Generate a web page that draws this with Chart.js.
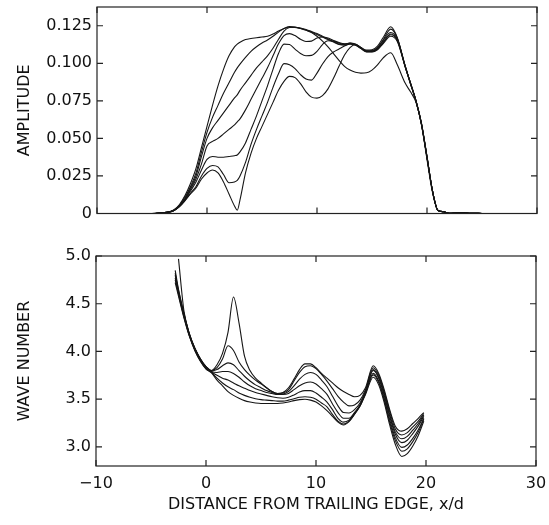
<!DOCTYPE html>
<html>
<head>
<meta charset="utf-8">
<title>Amplitude and wave number downstream of the trailing edge</title>
<script src="https://cdn.jsdelivr.net/npm/chart.js@4.4.1/dist/chart.umd.min.js"></script>
<style>
  html, body { margin: 0; padding: 0; background: #fff; }
  #page { position: relative; width: 549px; height: 525px; overflow: hidden; }
  .panel { position: absolute; left: 0; }
  /* panels overhang the page a little so tick-label padding does not squeeze the plot areas */
  #ampBox { top: -10px; width: 549px; height: 240px; }
  #waveBox { top: 236px; width: 555px; height: 289px; }
</style>
</head>
<body>
<div id="page">
  <div class="panel" id="ampBox"><canvas id="ampChart"></canvas></div>
  <div class="panel" id="waveBox"><canvas id="waveChart"></canvas></div>
</div>
<script>
// tick values shared by both panels
const xTickValues = [-10, 0, 10, 20, 30];
const ampTickValues = [0, 0.025, 0.05, 0.075, 0.1, 0.125];
const waveTickValues = [3.0, 3.5, 4.0, 4.5, 5.0];

// ---- amplitude curves (top panel) ----
const ampX = [-6, -5, -4, -3.5, -3, -2.5, -2, -1.5, -1, -0.5,
  0, 0.5, 1, 1.5, 2, 2.5, 2.75, 3, 3.5, 4,
  4.5, 5, 5.5, 6, 6.5, 7, 7.5, 8, 8.5, 9,
  9.5, 10, 10.5, 11, 11.5, 12, 12.5, 13, 13.5, 14,
  14.5, 15, 15.5, 16, 16.7, 17.3, 18, 18.5, 19, 19.5,
  20, 20.5, 21, 21.5, 22, 23, 24, 25];

const amp1 = [0, 0, 0.0006, 0.001, 0.0025, 0.006, 0.012, 0.02, 0.03, 0.044,
  0.058, 0.072, 0.085, 0.096, 0.105, 0.111, 0.1128, 0.114, 0.1158, 0.1165,
  0.117, 0.1175, 0.118, 0.1195, 0.1215, 0.1232, 0.1242, 0.1238, 0.1232, 0.1222,
  0.1205, 0.118, 0.1148, 0.111, 0.1065, 0.102, 0.098, 0.0955, 0.094, 0.0935,
  0.0937, 0.0955, 0.099, 0.1035, 0.107, 0.099, 0.087, 0.081, 0.074, 0.059,
  0.036, 0.014, 0.002, 0.0012, 0.0002, 0.0005, 0.0002, 0];
const amp2 = [0, 0, 0.0006, 0.001, 0.0023, 0.0055, 0.011, 0.018, 0.027, 0.041,
  0.054, 0.064, 0.072, 0.080, 0.087, 0.094, 0.097, 0.0995, 0.104, 0.108,
  0.111, 0.1135, 0.1155, 0.118, 0.1208, 0.1232, 0.1244, 0.1242, 0.1235, 0.1225,
  0.1212, 0.1198, 0.118, 0.1162, 0.1145, 0.1128, 0.1125, 0.1135, 0.1128, 0.1105,
  0.1088, 0.109, 0.1115, 0.117, 0.1243, 0.117, 0.098, 0.087, 0.075, 0.060,
  0.038, 0.015, 0.002, 0.0012, 0.0002, 0.0005, 0.0002, 0];
const amp3 = [0, 0, 0.0006, 0.0009, 0.0022, 0.0052, 0.010, 0.017, 0.025, 0.038,
  0.050, 0.057, 0.062, 0.067, 0.072, 0.077, 0.079, 0.082, 0.087, 0.092,
  0.097, 0.101, 0.105, 0.110, 0.116, 0.1215, 0.1238, 0.124, 0.1232, 0.122,
  0.1208, 0.1192, 0.1175, 0.1158, 0.1142, 0.1125, 0.112, 0.113, 0.1125, 0.1102,
  0.1083, 0.1085, 0.1105, 0.1155, 0.1228, 0.1168, 0.0985, 0.0868, 0.0752, 0.0598,
  0.0378, 0.015, 0.002, 0.0012, 0.0002, 0.0005, 0.0002, 0];
const amp4 = [0, 0, 0.0006, 0.0009, 0.002, 0.005, 0.0095, 0.016, 0.023, 0.033,
  0.045, 0.048, 0.050, 0.053, 0.056, 0.059, 0.061, 0.063, 0.069, 0.076,
  0.083, 0.090, 0.097, 0.105, 0.113, 0.1185, 0.1198, 0.1185, 0.116, 0.1145,
  0.1148, 0.1168, 0.1175, 0.1168, 0.1152, 0.1138, 0.113, 0.1135, 0.1125, 0.1102,
  0.108, 0.1082, 0.1102, 0.115, 0.1205, 0.1162, 0.0988, 0.0866, 0.075, 0.0596,
  0.0376, 0.015, 0.002, 0.0012, 0.0002, 0.0005, 0.0002, 0];
const amp5 = [0, 0, 0.0006, 0.0009, 0.002, 0.0048, 0.009, 0.015, 0.021, 0.029,
  0.036, 0.038, 0.0375, 0.0375, 0.038, 0.0385, 0.039, 0.041, 0.047, 0.056,
  0.065, 0.075, 0.085, 0.096, 0.1065, 0.1128, 0.1125, 0.1095, 0.1065, 0.105,
  0.1053, 0.108, 0.1125, 0.115, 0.1148, 0.1135, 0.1128, 0.1132, 0.1122, 0.11,
  0.1078, 0.1078, 0.1095, 0.114, 0.119, 0.1152, 0.0984, 0.0864, 0.0748, 0.0594,
  0.0374, 0.015, 0.002, 0.0012, 0.0002, 0.0005, 0.0002, 0];
const amp6 = [0, 0, 0.0006, 0.0009, 0.002, 0.0047, 0.0088, 0.0135, 0.018, 0.025,
  0.030, 0.032, 0.031, 0.026, 0.0205, 0.021, 0.022, 0.025, 0.034, 0.046,
  0.056, 0.065, 0.074, 0.084, 0.093, 0.0998, 0.099, 0.0965, 0.0925, 0.0895,
  0.0888, 0.0935, 0.0995, 0.1045, 0.1075, 0.1095, 0.1115, 0.1128, 0.112, 0.1098,
  0.1075, 0.1075, 0.109, 0.113, 0.118, 0.1145, 0.098, 0.0862, 0.0746, 0.0592,
  0.0372, 0.015, 0.002, 0.0012, 0.0002, 0.0005, 0.0002, 0];
const amp7 = [0, 0, 0.0006, 0.0009, 0.002, 0.0046, 0.0085, 0.013, 0.017, 0.023,
  0.027, 0.029, 0.027, 0.021, 0.013, 0.005, 0.0022, 0.009, 0.027, 0.040,
  0.050, 0.058, 0.066, 0.074, 0.082, 0.088, 0.0913, 0.0905, 0.0865, 0.081,
  0.0775, 0.0768, 0.0785, 0.083, 0.090, 0.098, 0.1055, 0.1105, 0.1125, 0.1105,
  0.108, 0.108, 0.1095, 0.1135, 0.1195, 0.1155, 0.0985, 0.0866, 0.0748, 0.0594,
  0.0374, 0.015, 0.002, 0.0012, 0.0002, 0.0005, 0.0002, 0];

// ---- wave number curves (bottom panel) ----
const waveX = [-2.8, -2.5, -2, -1.5, -1, -0.5, 0, 0.5, 1, 1.5,
  2, 2.5, 3, 3.5, 4, 4.5, 5, 5.5, 6, 6.5,
  7, 7.5, 8, 8.5, 9, 9.5, 10, 10.5, 11, 11.5,
  12, 12.5, 13, 13.5, 14, 14.5, 15.2, 15.7, 16.2, 16.7,
  17.2, 17.8, 18.3, 18.8, 19.3, 19.8];

const wave1 = [4.72, 4.58, 4.35, 4.155, 4.005, 3.895, 3.815, 3.775, 3.70, 3.64,
  3.58, 3.54, 3.51, 3.485, 3.47, 3.46, 3.455, 3.455, 3.455, 3.455,
  3.46, 3.47, 3.485, 3.495, 3.50, 3.49, 3.47, 3.43, 3.38, 3.32,
  3.26, 3.23, 3.265, 3.34, 3.425, 3.55, 3.73, 3.65, 3.465, 3.23,
  3.03, 2.90, 2.93, 3.01, 3.12, 3.27];
const wave2 = [4.75, 4.60, 4.36, 4.16, 4.01, 3.90, 3.82, 3.78, 3.72, 3.67,
  3.63, 3.60, 3.565, 3.54, 3.52, 3.505, 3.495, 3.49, 3.485, 3.48,
  3.48, 3.49, 3.505, 3.52, 3.525, 3.52, 3.50, 3.46, 3.42, 3.34,
  3.27, 3.24, 3.27, 3.345, 3.43, 3.56, 3.755, 3.675, 3.49, 3.26,
  3.07, 2.955, 2.98, 3.055, 3.155, 3.29];
const wave3 = [4.77, 4.61, 4.37, 4.165, 4.015, 3.905, 3.825, 3.785, 3.75, 3.72,
  3.70, 3.67, 3.64, 3.615, 3.59, 3.57, 3.555, 3.54, 3.525, 3.515,
  3.51, 3.52, 3.545, 3.575, 3.59, 3.59, 3.565, 3.52, 3.47, 3.39,
  3.30, 3.26, 3.28, 3.35, 3.435, 3.565, 3.77, 3.69, 3.51, 3.285,
  3.10, 2.995, 3.02, 3.09, 3.18, 3.30];
const wave4 = [4.80, 4.62, 4.38, 4.17, 4.02, 3.91, 3.83, 3.79, 3.78, 3.79,
  3.79, 3.77, 3.73, 3.68, 3.64, 3.61, 3.59, 3.57, 3.56, 3.55,
  3.55, 3.56, 3.60, 3.64, 3.67, 3.68, 3.66, 3.61, 3.55, 3.45,
  3.36, 3.30, 3.30, 3.36, 3.44, 3.575, 3.80, 3.72, 3.54, 3.32,
  3.135, 3.045, 3.07, 3.14, 3.22, 3.32];
const wave5 = [4.82, 4.64, 4.39, 4.175, 4.025, 3.915, 3.835, 3.795, 3.81, 3.85,
  3.88, 3.86, 3.80, 3.74, 3.69, 3.65, 3.62, 3.59, 3.57, 3.555,
  3.555, 3.58, 3.64, 3.71, 3.76, 3.78, 3.76, 3.70, 3.63, 3.53,
  3.43, 3.36, 3.355, 3.39, 3.46, 3.585, 3.81, 3.73, 3.56, 3.34,
  3.16, 3.085, 3.11, 3.175, 3.245, 3.335];
const wave6 = [4.85, 4.65, 4.40, 4.18, 4.03, 3.92, 3.84, 3.80, 3.83, 3.92,
  4.06, 4.01, 3.89, 3.81, 3.75, 3.70, 3.66, 3.62, 3.58, 3.56,
  3.565, 3.60, 3.69, 3.78, 3.84, 3.85, 3.82, 3.76, 3.69, 3.61,
  3.53, 3.47, 3.43, 3.44, 3.49, 3.60, 3.83, 3.75, 3.58, 3.37,
  3.19, 3.125, 3.15, 3.21, 3.27, 3.35];
const wave7 = [null, 4.97, 4.42, 4.18, 4.03, 3.92, 3.84, 3.80, 3.86, 3.98,
  4.20, 4.57, 4.30, 3.95, 3.80, 3.72, 3.67, 3.62, 3.58, 3.56,
  3.57, 3.62, 3.71, 3.81, 3.87, 3.87, 3.83, 3.77, 3.72, 3.67,
  3.62, 3.58, 3.55, 3.525, 3.54, 3.62, 3.85, 3.77, 3.60, 3.39,
  3.22, 3.165, 3.19, 3.245, 3.30, 3.36];

const ampCurves = [amp1, amp2, amp3, amp4, amp5, amp6, amp7];
const waveCurves = [wave1, wave2, wave3, wave4, wave5, wave6, wave7];

Chart.defaults.font.family = "'DejaVu Sans', sans-serif";
Chart.defaults.font.size = 16;
Chart.defaults.color = '#111';
Chart.defaults.animation = false;

// closed frame with short inward tick marks on all four sides
const frameTicks = {
  id: 'frameTicks',
  afterDraw(chart, args, opts) {
    const { ctx, chartArea: a } = chart;
    const x = chart.scales.x, y = chart.scales.y;
    const len = 6;
    ctx.save();
    ctx.strokeStyle = '#222';
    ctx.lineWidth = 1.2;
    ctx.strokeRect(a.left, a.top, a.right - a.left, a.bottom - a.top);
    ctx.beginPath();
    opts.xTicks.forEach(v => {
      const px = x.getPixelForValue(v);
      ctx.moveTo(px, a.bottom); ctx.lineTo(px, a.bottom - len);
      ctx.moveTo(px, a.top); ctx.lineTo(px, a.top + len);
    });
    opts.yTicks.forEach(v => {
      const py = y.getPixelForValue(v);
      ctx.moveTo(a.left, py); ctx.lineTo(a.left + len, py);
      ctx.moveTo(a.right, py); ctx.lineTo(a.right - len, py);
    });
    ctx.stroke();
    ctx.restore();
  }
};

function makeDatasets(xs, curves) {
  return curves.map(vals => ({
    data: vals.map((v, i) => ({ x: xs[i], y: v })),
    borderColor: '#161616',
    borderWidth: 1.1,
    pointRadius: 0,
    fill: false,
    cubicInterpolationMode: 'monotone'
  }));
}

const fixedTicks = values => scale => { scale.ticks = values.map(v => ({ value: v })); };

// top panel: amplitude
new Chart(document.getElementById('ampChart'), {
  type: 'line',
  data: { datasets: makeDatasets(ampX, ampCurves) },
  options: {
    responsive: true,
    maintainAspectRatio: false,
    layout: { padding: { top: 17, right: 12, bottom: 16.5, left: 0 } },
    plugins: {
      legend: { display: false },
      tooltip: { enabled: false },
      frameTicks: { xTicks: xTickValues, yTicks: ampTickValues }
    },
    scales: {
      x: { type: 'linear', min: -10, max: 30, display: false },
      y: {
        min: 0, max: 0.1375,
        afterFit: s => { s.width = 97; },
        afterBuildTicks: fixedTicks(ampTickValues),
        grid: { display: false, drawTicks: false },
        border: { display: false },
        ticks: { padding: 5, autoSkip: false, callback: v => v === 0 ? '0' : v.toFixed(3) },
        title: { display: true, text: 'AMPLITUDE', padding: { top: 15, bottom: 0 } }
      }
    }
  },
  plugins: [frameTicks]
});

// bottom panel: wave number
new Chart(document.getElementById('waveChart'), {
  type: 'line',
  data: { datasets: makeDatasets(waveX, waveCurves) },
  options: {
    responsive: true,
    maintainAspectRatio: false,
    layout: { padding: { top: 20, right: 19, bottom: 0, left: 0 } },
    plugins: {
      legend: { display: false },
      tooltip: { enabled: false },
      frameTicks: { xTicks: xTickValues, yTicks: waveTickValues }
    },
    scales: {
      x: {
        type: 'linear', min: -10, max: 30,
        afterFit: s => { s.height = 59; },
        afterBuildTicks: fixedTicks(xTickValues),
        grid: { display: false, drawTicks: false },
        border: { display: false },
        ticks: { padding: 8, maxRotation: 0, autoSkip: false,
          callback: v => v < 0 ? '\u2212' + Math.abs(v) : String(v) },
        title: { display: true, text: 'DISTANCE FROM TRAILING EDGE, x/d', padding: { top: 0, bottom: 11 } }
      },
      y: {
        min: 2.8, max: 5.0,
        afterFit: s => { s.width = 96; },
        afterBuildTicks: fixedTicks(waveTickValues),
        grid: { display: false, drawTicks: false },
        border: { display: false },
        ticks: { padding: 5, autoSkip: false, callback: v => v.toFixed(1) },
        title: { display: true, text: 'WAVE NUMBER', padding: { top: 15, bottom: 0 } }
      }
    }
  },
  plugins: [frameTicks]
});
</script>
</body>
</html>
